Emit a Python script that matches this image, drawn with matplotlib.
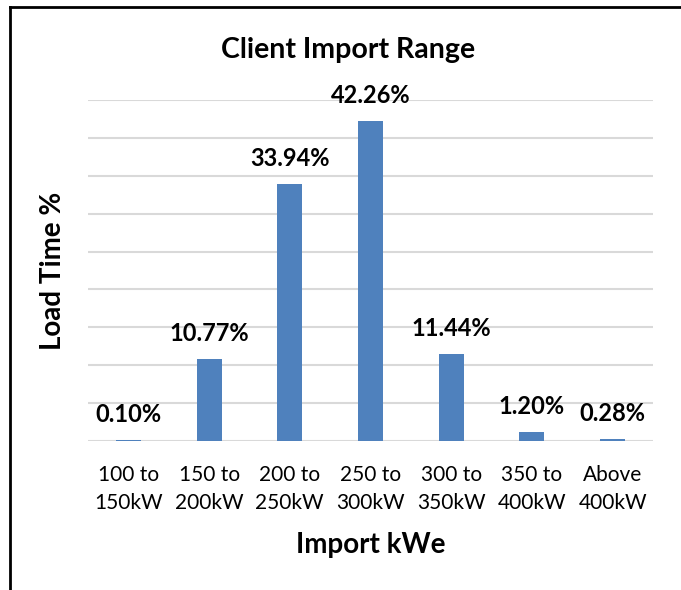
import numpy as np
import matplotlib.pyplot as plt
from matplotlib.lines import Line2D

categories = ["100 to\n150kW", "150 to\n200kW", "200 to\n250kW", "250 to\n300kW",
              "300 to\n350kW", "350 to\n400kW", "Above\n400kW"]
load_pct = [0.10, 10.77, 33.94, 42.26, 11.44, 1.20, 0.28]
value_labels = ["0.10%", "10.77%", "33.94%", "42.26%", "11.44%", "1.20%", "0.28%"]

plt.rcParams['font.family'] = ['Lato', 'DejaVu Sans']

fig = plt.figure(figsize=(6.81, 5.9), dpi=100)
ax = fig.add_axes([88 / 681, 1 - 441 / 590, (653 - 88) / 681, (441 - 100) / 590])

x = np.arange(len(categories))
ax.bar(x, load_pct, width=0.31, color="#4F81BD", zorder=3)

for xi, v, lab in zip(x, load_pct, value_labels):
    ax.annotate(lab, (xi, v), xytext=(0, 10), textcoords="offset points",
                ha="center", va="bottom", fontsize=17, fontweight="bold")

ax.set_xlim(-0.5, len(categories) - 0.5)
ax.set_ylim(0, 45)
ax.set_yticks(np.arange(0, 46, 5))
ax.set_yticklabels([])
ax.tick_params(axis="y", length=0)
ax.grid(axis="y", color="#D9D9D9", linewidth=1.5, zorder=0)
ax.set_xticks(x)
ax.set_xticklabels(categories, fontsize=15, linespacing=1.5)
ax.tick_params(axis="x", length=0, pad=17)
for s in ax.spines.values():
    s.set_visible(False)

ax.set_xlabel("Import kWe", fontsize=20, fontweight="bold", labelpad=14)
ax.set_ylabel("Load Time %", fontsize=20, fontweight="bold", labelpad=12)
fig.text(348 / 681, 1 - 50 / 590, "Client Import Range", ha="center", va="center",
         fontsize=20.5, fontweight="bold")

# chart frame (top and left edges visible)
fig.add_artist(Line2D([10 / 681, 10 / 681], [0, 1 - 6.5 / 590], color="black", linewidth=2))
fig.add_artist(Line2D([10 / 681, 1], [1 - 6.5 / 590, 1 - 6.5 / 590], color="black", linewidth=2))

fig.savefig("out.png", dpi=100)
